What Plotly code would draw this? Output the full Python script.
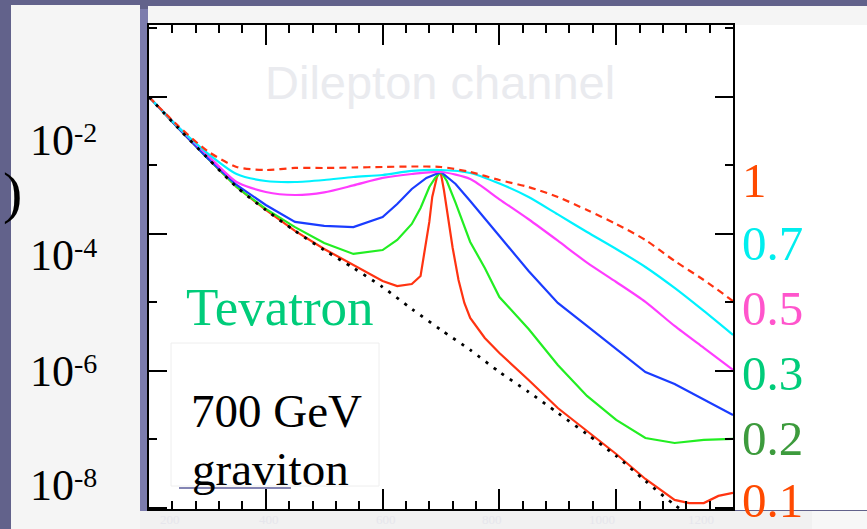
import plotly.graph_objects as go

# ---------------- data ----------------
mass_common = [200, 250, 300, 350, 400, 450, 500, 550, 600, 650, 700,
               750, 800, 850, 900, 950, 1000, 1050, 1100, 1150, 1200]
mass_k03 = [200, 250, 300, 350, 400, 450, 500, 550, 600, 625, 650, 675, 700,
            725, 750, 775, 800, 850, 900, 950, 1000, 1050, 1100, 1150, 1200]
mass_k02 = [200, 250, 300, 350, 400, 450, 500, 550, 600, 625, 650, 665, 680, 690,
            700, 710, 725, 750, 775, 800, 850, 900, 950, 1000, 1050, 1100, 1150, 1200]
mass_k01 = [200, 250, 300, 350, 400, 450, 500, 550, 600, 625, 650, 665, 675, 680,
            685, 690, 693, 697, 700, 705, 710, 715, 720, 730, 740, 750, 775, 800,
            850, 900, 950, 1000, 1050, 1100, 1125, 1150, 1175, 1200]

xsec_sm = [1.00e-2, 3.52e-3, 1.29e-3, 4.85e-4, 2.24e-4, 1.11e-4, 5.83e-5, 3.19e-5,
           1.68e-5, 8.03e-6, 3.97e-6, 2.03e-6, 9.66e-7, 4.93e-7, 2.44e-7, 1.20e-7,
           5.74e-8, 2.48e-8, 1.11e-8, 5.65e-9, 2.88e-9]
xsec_k1 = [1.00e-2, 3.78e-3, 1.63e-3, 9.51e-4, 8.59e-4, 9.20e-4, 9.20e-4, 9.35e-4,
           9.51e-4, 9.66e-4, 9.51e-4, 8.03e-4, 6.14e-4, 4.85e-4, 3.47e-4, 2.24e-4,
           1.40e-4, 8.17e-5, 4.04e-5, 2.13e-5, 1.05e-5]
xsec_k07 = [1.00e-2, 3.65e-3, 1.52e-3, 7.52e-4, 5.94e-4, 5.74e-4, 6.14e-4, 6.79e-4,
            7.26e-4, 8.32e-4, 8.59e-4, 7.78e-4, 5.46e-4, 3.47e-4, 1.93e-4, 1.07e-4,
            6.04e-5, 3.30e-5, 1.63e-5, 7.52e-6, 3.36e-6]
xsec_k05 = [1.00e-2, 3.65e-3, 1.42e-3, 5.74e-4, 4.10e-4, 3.71e-4, 4.05e-4, 5.12e-4,
            6.58e-4, 7.52e-4, 8.03e-4, 6.35e-4, 3.21e-4, 1.64e-4, 7.98e-5, 3.82e-5,
            1.99e-5, 1.02e-5, 4.54e-6, 2.17e-6, 1.04e-6]
xsec_k03 = [1.00e-2, 3.52e-3, 1.29e-3, 5.19e-4, 2.65e-4, 1.50e-4, 1.31e-4, 1.26e-4,
            1.77e-4, 2.74e-4, 4.54e-4, 6.58e-4, 8.03e-4, 5.37e-4, 3.03e-4, 1.66e-4,
            9.35e-5, 2.88e-5, 9.84e-6, 4.54e-6, 2.09e-6, 9.66e-7, 6.46e-7, 3.84e-7,
            2.28e-7]
xsec_k02 = [1.00e-2, 3.52e-3, 1.29e-3, 4.85e-4, 2.32e-4, 1.26e-4, 7.40e-5, 5.11e-5,
            5.83e-5, 8.17e-5, 1.40e-4, 2.40e-4, 4.85e-4, 6.58e-4, 8.03e-4, 5.94e-4,
            2.84e-4, 7.64e-5, 3.19e-5, 1.20e-5, 4.10e-6, 1.22e-6, 4.32e-7, 1.93e-7,
            1.05e-7, 8.89e-8, 9.84e-8, 1.02e-7]
xsec_k01 = [1.00e-2, 3.52e-3, 1.29e-3, 4.85e-4, 2.24e-4, 1.11e-4, 6.04e-5, 3.52e-5,
            2.06e-5, 1.74e-5, 1.86e-5, 2.44e-5, 8.17e-5, 1.50e-4, 3.47e-4, 5.56e-4,
            6.79e-4, 8.03e-4, 7.52e-4, 4.39e-4, 2.24e-4, 1.07e-4, 6.25e-5, 2.13e-5,
            9.84e-6, 5.94e-6, 3.03e-6, 1.83e-6, 7.40e-7, 2.88e-7, 1.33e-7, 6.14e-8,
            2.65e-8, 1.31e-8, 1.18e-8, 1.18e-8, 1.50e-8, 1.66e-8]

coupling_labels = ["1", "0.7", "0.5", "0.3", "0.2", "0.1"]
ytick_exponents = ["-2", "-4", "-6", "-8"]
xtick_labels = ["200", "400", "600", "800", "1000", "1200"]

# ---------------- geometry helpers (pixel -> paper) ----------------
W, H = 867, 529
L, R, T, B = 149, 733, 25, 509


def fx(px):
    return (px - L) / (R - L)


def fy(py):
    return (B - py) / (B - T)


SERIF = "Liberation Serif, Times New Roman, serif"
SANS = "Liberation Sans, Arial, sans-serif"

fig = go.Figure()

curves = [
    (mass_k01, xsec_k01, "#ff3311", "solid", "linear", 2.2),
    (mass_k02, xsec_k02, "#22ee22", "solid", "linear", 2.2),
    (mass_k03, xsec_k03, "#1a3cff", "solid", "linear", 2.2),
    (mass_common, xsec_k05, "#ff3cff", "solid", "spline", 2.2),
    (mass_common, xsec_k07, "#00f2ff", "solid", "spline", 2.2),
    (mass_common, xsec_k1, "#ff3311", "7px,5px", "spline", 2.2),
    (mass_common, xsec_sm, "#000000", "3px,7px", "spline", 2.8),
]
for xs, ys, col, dash, shape, wd in curves:
    line = dict(color=col, width=wd, dash=dash, shape=shape)
    if shape == "spline":
        line["smoothing"] = 0.7
    fig.add_trace(go.Scatter(x=xs, y=ys, mode="lines", line=line,
                             showlegend=False, hoverinfo="skip"))

# ---------------- background panels ----------------
shapes = []


def rect(x0, y0, x1, y1, fill, line=None, layer="below"):
    shapes.append(dict(type="rect", xref="paper", yref="paper",
                       x0=fx(x0), x1=fx(x1), y0=fy(y1), y1=fy(y0),
                       fillcolor=fill, layer=layer,
                       line=dict(width=0) if line is None else line))


rect(148, 25, 867, 510, "#ffffff")              # white page area
rect(11, 5, 140, 529, "#f5f5f5")                # left grey panel
rect(140, 9, 148, 529, "#7c7cad")               # light purple strip
rect(148, 6, 867, 25, "#f5f5f5")                # top grey band
rect(140, 511, 812, 529, "#f1f1f1")             # bottom grey band
rect(812, 511, 867, 529, "#f7f7f7")
rect(171, 343, 379, 486, "#ffffff", line=dict(color="#eeeeee", width=1))
shapes.append(dict(type="line", xref="paper", yref="paper",
                   x0=fx(179), x1=fx(291), y0=fy(488), y1=fy(488),
                   line=dict(color="#8485b4", width=2), layer="above"))

# ---------------- texts ----------------
ann = []


def text(s, px, py, size, color, font=SERIF, xanchor="center", yanchor="middle",
         pad=1):
    ann.append(dict(text=s, x=fx(px), y=fy(py), xref="paper", yref="paper",
                    xanchor=xanchor, yanchor=yanchor, showarrow=False,
                    borderpad=pad, borderwidth=0 if pad == 0 else 1,
                    font=dict(family=font, size=size, color=color)))


text("Dilepton channel", 440, 82, 47, "#eaebef", font=SANS)
text("Tevatron", 280, 307, 53, "#00cc7a")
text("700 GeV", 276, 411, 47, "#000000")
text("graviton", 270, 469, 47, "#000000")

label_y = [180, 243, 308, 373, 438, 500]
label_col = ["#ff4a00", "#00eeee", "#ff55cc", "#00cc7a", "#3d9b3d", "#ff4a00"]
for s, yy, c in zip(coupling_labels, label_y, label_col):
    text(s, 740, yy, 49, c, xanchor="left")

base_y = [155, 270, 386, 500]
for e, by in zip(ytick_exponents, base_y):
    text("10", 30, by - 15, 44, "#000000", xanchor="left", pad=0)
    text(e, 74, by - 13 - 10, 28, "#000000", xanchor="left", pad=0)

text(")", 1, 192, 58, "#000000", xanchor="left")

xl_pos = [170, 269, 386, 492, 602, 701]
for s, xp in zip(xtick_labels, xl_pos):
    text(s, xp, 519, 13, "#e6e6ec", pad=0)

axis_common = dict(showline=True, linecolor="black", linewidth=2, mirror="allticks",
                   ticks="inside", tickcolor="black", tickwidth=2,
                   showticklabels=False, showgrid=False, zeroline=False)

fig.update_layout(
    width=W, height=H, autosize=False,
    margin=dict(l=L, r=W - R, t=T, b=H - B, pad=0),
    paper_bgcolor="#62628b", plot_bgcolor="#ffffff",
    shapes=shapes, annotations=ann, showlegend=False,
    xaxis=dict(range=[200, 1200], tickmode="linear", tick0=200, dtick=200,
               ticklen=20,
               minor=dict(ticks="inside", ticklen=8, tickwidth=2, tickcolor="black",
                          tick0=200, dtick=40),
               **axis_common),
    yaxis=dict(type="log", range=[-8.015, -0.949],
               tickmode="array", tickvals=[1e-8, 1e-6, 1e-4, 1e-2], ticklen=18,
               minor=dict(ticks="inside", ticklen=8, tickwidth=2, tickcolor="black",
                          tickmode="array", tickvals=[1e-7, 1e-5, 1e-3, 1e-1]),
               **axis_common),
)

fig.write_html("out.html")
